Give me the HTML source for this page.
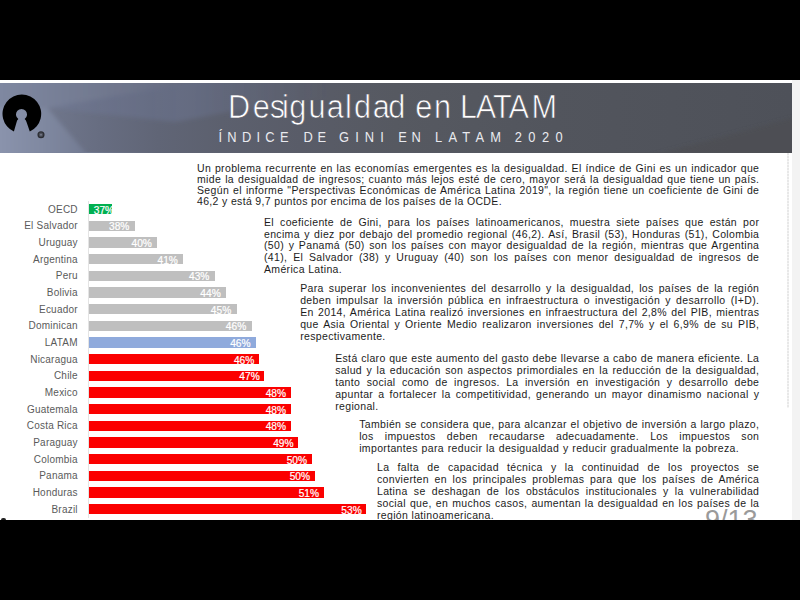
<!DOCTYPE html>
<html><head><meta charset="utf-8">
<style>
html,body{margin:0;padding:0;}
body{width:800px;height:600px;background:#000;position:relative;overflow:hidden;font-family:"Liberation Sans",sans-serif;}
#slide{position:absolute;left:0;top:80px;width:800px;height:440px;background:#fff;overflow:hidden;}
#strip{position:absolute;left:792px;top:0;width:8px;height:440px;background:#f3f3f3;}
#hdr{position:absolute;left:0;top:3px;width:792px;height:69.5px;background:linear-gradient(90deg,#8a93ac 0,#727a91 11%,#606576 20%,#595c68 38%,#52555d 70%,#4d4e53 100%);}
.lab{position:absolute;left:0;width:77.8px;margin-top:0.6px;text-align:right;font-size:10px;line-height:10.6px;color:#5a5a5a;white-space:nowrap;letter-spacing:0.22px;}
.bar{position:absolute;left:88.8px;height:10.3px;}
.val{position:absolute;right:4.5px;top:0.7px;font-size:10.2px;line-height:11.3px;-webkit-text-stroke:0.2px #fff;color:#fff;white-space:nowrap;}
.g .val,.b .val{right:5.6px}.r .val{right:4.8px}
.g{background:#bfbfbf;}.r{background:#fb0000;}.b{background:#8faadc;}.gr{background:#00b050;}
.p{position:absolute;font-size:10.5px;line-height:11.1px;color:#1c1c1c;letter-spacing:0.34px;}
.p div{text-align:justify;text-align-last:justify;white-space:nowrap;}
.p div.l{text-align-last:left;word-spacing:0;}
#pg{position:absolute;left:705px;top:425px;font-size:27px;line-height:30px;color:#9a9a9a;white-space:nowrap;}
</style></head><body>
<div id="slide">
<div id="strip"></div>
<div style="position:absolute;left:787px;top:73px;width:2px;height:255px;background:repeating-linear-gradient(180deg,#e2e2e2 0 2px,#f2f2f2 2px 3px);opacity:.8"></div>
<div id="hdr"></div>
<svg id="facets" style="position:absolute;left:0;top:3px" width="792" height="69" viewBox="0 83 792 69">
<defs>
<linearGradient id="gb" gradientUnits="userSpaceOnUse" x1="0" y1="0" x2="792" y2="0">
<stop offset="0" stop-color="#757c92"/><stop offset="0.057" stop-color="#70778c"/><stop offset="0.126" stop-color="#676d81"/><stop offset="0.2" stop-color="#606576"/><stop offset="0.28" stop-color="#5c606e"/><stop offset="0.38" stop-color="#595c68"/><stop offset="0.5" stop-color="#565961"/><stop offset="0.7" stop-color="#52555d"/><stop offset="1" stop-color="#4e5159"/>
</linearGradient>
<linearGradient id="gb2" gradientUnits="userSpaceOnUse" x1="0" y1="0" x2="851.6" y2="0">
<stop offset="0" stop-color="#757c92"/><stop offset="0.057" stop-color="#70778c"/><stop offset="0.126" stop-color="#676d81"/><stop offset="0.2" stop-color="#606576"/><stop offset="0.28" stop-color="#5c606e"/><stop offset="0.38" stop-color="#595c68"/><stop offset="0.5" stop-color="#565961"/><stop offset="0.7" stop-color="#52555d"/><stop offset="1" stop-color="#4e5159"/>
</linearGradient>
<linearGradient id="gt" gradientUnits="userSpaceOnUse" x1="0" y1="0" x2="240" y2="0">
<stop offset="0" stop-color="#7f88a1"/><stop offset="0.3" stop-color="#757d94"/><stop offset="0.65" stop-color="#6a7085"/><stop offset="1" stop-color="#5d616f"/>
</linearGradient>
<linearGradient id="gl" gradientUnits="userSpaceOnUse" x1="0" y1="0" x2="90" y2="0">
<stop offset="0" stop-color="#8a93ac"/><stop offset="0.5" stop-color="#7f88a0"/><stop offset="1" stop-color="#727a91"/>
</linearGradient>
<linearGradient id="gm" gradientUnits="userSpaceOnUse" x1="47" y1="0" x2="330" y2="0">
<stop offset="0" stop-color="#8090c0" stop-opacity="0.10"/><stop offset="0.5" stop-color="#8090c0" stop-opacity="0.2"/><stop offset="1" stop-color="#8090c0" stop-opacity="0"/>
</linearGradient>
<filter id="bl" x="-5%" y="-20%" width="110%" height="140%"><feGaussianBlur stdDeviation="2"/></filter>
</defs>
<rect x="0" y="83" width="792" height="69" fill="url(#gb)"/>
<g filter="url(#bl)">
<polygon points="47.5,108 154,89 330,60 330,98 240,110 175,122" fill="url(#gm)"/>
<polygon points="-8,75 -8,108 47.5,108 154,89 240,75" fill="url(#gt)"/>
<polygon points="-8,108 47.5,108 90,158 -8,158" fill="url(#gl)"/>
<polygon points="650,156 800,116 800,156" fill="#4d4d50" fill-opacity="0.55"/>
</g>
<g font-family="Liberation Sans, sans-serif" font-size="33" fill="#fff" stroke="url(#gb2)" stroke-width="0.7">
<text transform="scale(0.93 1)" x="245.21 271.77 290.01 303.33 311.09 331.71 351.26 371.06 380.71 400.73 417.54 435.48 446.5 466.61 486.02 494.59 511.47 530.25 546.79 571.63" y="118" xml:space="preserve">Desigualdad en LATAM</text>
</g>
<g font-family="Liberation Sans, sans-serif" font-size="14" fill="#e9eaef">
<text transform="translate(218.5 141.5) scale(0.92 1)" letter-spacing="5.73">ÍNDICE</text>
<text transform="translate(303.5 141.5) scale(0.92 1)" letter-spacing="5.03">DE</text>
<text transform="translate(339.1 141.5) scale(0.92 1)" letter-spacing="6.6">GINI</text>
<text transform="translate(398.2 141.5) scale(0.92 1)" letter-spacing="5.19">EN</text>
<text transform="translate(435 141.5) scale(0.92 1)" letter-spacing="6.79">LATAM</text>
<text transform="translate(514.7 141.5) scale(0.92 1)" letter-spacing="7.0">2020</text>
</g>
</svg>
<svg id="logo" style="position:absolute;left:0;top:5px" width="60" height="60" viewBox="0 0 60 60">
<path d="M13.9 46.5 A19.35 19.35 0 1 1 29.8 46.5 L26.7 37.4 Q26.2 35.3 24.66 34 A5.5 5.5 0 1 0 18.34 34 Q16.8 35.3 16.5 37.4 Z" fill="#000"/>
<circle cx="41" cy="49.8" r="2.9" fill="#4a4d57" stroke="#2b2d33" stroke-width="1.3"/><circle cx="41" cy="49.8" r="1" fill="#747987"/>
</svg>
<div style="position:absolute;left:88px;top:120.5px;width:1px;height:317px;background:#e4e4e4"></div>
<div id="chart">
<div class="lab" style="top:124.00px">OECD</div><div class="bar gr" style="top:124.00px;width:23.2px"><span class="val" style="right:-2.2px">37%</span></div>
<div class="lab" style="top:140.67px">El Salvador</div><div class="bar g" style="top:140.67px;width:46.2px"><span class="val">38%</span></div>
<div class="lab" style="top:157.33px">Uruguay</div><div class="bar g" style="top:157.33px;width:68.7px"><span class="val">40%</span></div>
<div class="lab" style="top:174.00px">Argentina</div><div class="bar g" style="top:174.00px;width:94.7px"><span class="val">41%</span></div>
<div class="lab" style="top:190.67px">Peru</div><div class="bar g" style="top:190.67px;width:126.2px"><span class="val">43%</span></div>
<div class="lab" style="top:207.34px">Bolivia</div><div class="bar g" style="top:207.34px;width:137.5px"><span class="val">44%</span></div>
<div class="lab" style="top:224.00px">Ecuador</div><div class="bar g" style="top:224.00px;width:148.0px"><span class="val">45%</span></div>
<div class="lab" style="top:240.67px">Dominican</div><div class="bar g" style="top:240.67px;width:163.0px"><span class="val">46%</span></div>
<div class="lab" style="top:257.34px">LATAM</div><div class="bar b" style="top:257.34px;width:167.4px"><span class="val">46%</span></div>
<div class="lab" style="top:274.00px">Nicaragua</div><div class="bar r" style="top:274.00px;width:170.3px"><span class="val">46%</span></div>
<div class="lab" style="top:290.67px">Chile</div><div class="bar r" style="top:290.67px;width:175.7px"><span class="val">47%</span></div>
<div class="lab" style="top:307.34px">Mexico</div><div class="bar r" style="top:307.34px;width:202.1px"><span class="val">48%</span></div>
<div class="lab" style="top:324.00px">Guatemala</div><div class="bar r" style="top:324.00px;width:202.1px"><span class="val">48%</span></div>
<div class="lab" style="top:340.67px">Costa Rica</div><div class="bar r" style="top:340.67px;width:202.1px"><span class="val">48%</span></div>
<div class="lab" style="top:357.34px">Paraguay</div><div class="bar r" style="top:357.34px;width:209.6px"><span class="val">49%</span></div>
<div class="lab" style="top:374.00px">Colombia</div><div class="bar r" style="top:374.00px;width:223.1px"><span class="val">50%</span></div>
<div class="lab" style="top:390.67px">Panama</div><div class="bar r" style="top:390.67px;width:226.1px"><span class="val">50%</span></div>
<div class="lab" style="top:407.34px">Honduras</div><div class="bar r" style="top:407.34px;width:235.1px"><span class="val">51%</span></div>
<div class="lab" style="top:424.01px">Brazil</div><div class="bar r" style="top:424.01px;width:277.7px"><span class="val">53%</span></div>
</div>
<div class="p" style="left:197px;top:83.0px;width:562.3px;line-height:10.9px">
<div>Un problema recurrente en las economías emergentes es la desigualdad. El índice de Gini es un indicador que</div>
<div>mide la desigualdad de ingresos; cuanto más lejos esté de cero, mayor será la desigualdad que tiene un país.</div>
<div>Según el informe "Perspectivas Económicas de América Latina 2019", la región tiene un coeficiente de Gini de</div>
<div class="l">46,2 y está 9,7 puntos por encima de los países de la OCDE.</div>
</div>
<div class="p" style="left:264px;top:137px;width:495.3px;line-height:11.7px">
<div>El coeficiente de Gini, para los países latinoamericanos, muestra siete países que están por</div>
<div>encima y diez por debajo del promedio regional (46,2). Así, Brasil (53), Honduras (51), Colombia</div>
<div>(50) y Panamá (50) son los países con mayor desigualdad de la región, mientras que Argentina</div>
<div>(41), El Salvador (38) y Uruguay (40) son los países con menor desigualdad de ingresos de</div>
<div class="l">América Latina.</div>
</div>
<div class="p" style="left:300.2px;top:203.4px;width:459.1px;line-height:11.87px">
<div>Para superar los inconvenientes del desarrollo y la desigualdad, los países de la región</div>
<div>deben impulsar la inversión pública en infraestructura o investigación y desarrollo (I+D).</div>
<div>En 2014, América Latina realizó inversiones en infraestructura del 2,8% del PIB, mientras</div>
<div>que Asia Oriental y Oriente Medio realizaron inversiones del 7,7% y el 6,9% de su PIB,</div>
<div class="l">respectivamente.</div>
</div>
<div class="p" style="left:335.2px;top:273.4px;width:424.1px;line-height:11.95px">
<div>Está claro que este aumento del gasto debe llevarse a cabo de manera eficiente. La</div>
<div>salud y la educación son aspectos primordiales en la reducción de la desigualdad,</div>
<div>tanto social como de ingresos. La inversión en investigación y desarrollo debe</div>
<div>apuntar a fortalecer la competitividad, generando un mayor dinamismo nacional y</div>
<div class="l">regional.</div>
</div>
<div class="p" style="left:359.2px;top:339.4px;width:400.1px;line-height:11.65px">
<div>También se considera que, para alcanzar el objetivo de inversión a largo plazo,</div>
<div>los impuestos deben recaudarse adecuadamente. Los impuestos son</div>
<div class="l" style="word-spacing:0.55px">importantes para reducir la desigualdad y reducir gradualmente la pobreza.</div>
</div>
<div class="p" style="left:377px;top:382.1px;width:382.3px;line-height:11.95px">
<div>La falta de capacidad técnica y la continuidad de los proyectos se</div>
<div>convierten en los principales problemas para que los países de América</div>
<div>Latina se deshagan de los obstáculos institucionales y la vulnerabilidad</div>
<div>social que, en muchos casos, aumentan la desigualdad en los países de la</div>
<div class="l">región latinoamericana.</div>
</div>
<div id="pg">9/13</div>
<div style="position:absolute;left:1px;top:437.5px;width:5px;height:3px;background:#222;border-radius:2px 2px 0 0"></div>
</div>
</body></html>
